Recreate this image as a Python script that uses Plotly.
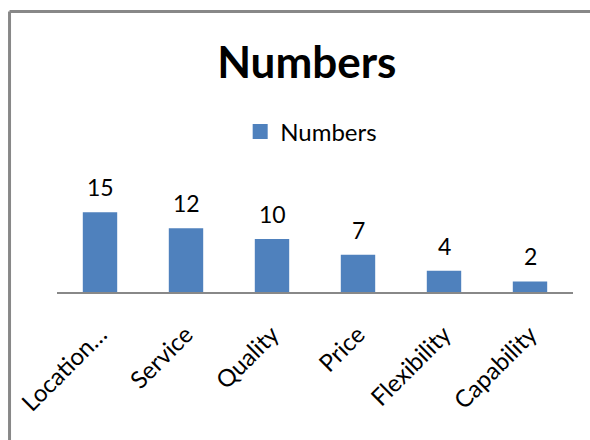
import plotly.graph_objects as go

# Survey counts per factor
categories = ["Location…", "Service", "Quality", "Price", "Flexibility", "Capability"]
values = [15, 12, 10, 7, 4, 2]
series_name = "Numbers"
chart_title = "Numbers"

BAR_COLOR = "#4F81BD"
FONT = "Lato, 'Open Sans', sans-serif"

fig = go.Figure()

fig.add_trace(go.Bar(
    x=categories,
    y=values,
    name=series_name,
    marker=dict(color=BAR_COLOR, line=dict(width=0)),
    showlegend=False,
    hoverinfo="x+y",
))

# Legend entry with a square swatch
fig.add_trace(go.Scatter(
    x=[None], y=[None],
    mode="markers",
    name=series_name,
    marker=dict(symbol="square", size=15, color=BAR_COLOR),
    showlegend=True,
))

# Value labels above each bar
for c, v in zip(categories, values):
    fig.add_annotation(
        x=c, y=v, text=str(v),
        showarrow=False, yanchor="middle", yshift=25,
        font=dict(family=FONT, size=23, color="black"),
    )

# Chart frame (left and top edges)
frame = dict(color="#888888", width=3)
fig.add_shape(type="line", xref="paper", yref="paper",
              x0=-0.092, x1=-0.092, y0=-2.0, y1=3.30, line=frame)
fig.add_shape(type="line", xref="paper", yref="paper",
              x0=-0.092, x1=1.05, y0=3.30, y1=3.30, line=frame)

fig.update_layout(
    width=590, height=440,
    margin=dict(l=57, r=17, t=207, b=148),
    paper_bgcolor="white",
    plot_bgcolor="white",
    bargap=0.6,
    font=dict(family=FONT, size=23, color="black"),
    title=dict(
        text="<b>" + chart_title + "</b>",
        x=0.52, xanchor="center",
        y=1 - 63 / 440, yref="container", yanchor="middle",
        font=dict(family=FONT, size=44, color="black"),
    ),
    legend=dict(
        orientation="h",
        x=0.355, xanchor="left",
        y=(292 - 132) / 85, yanchor="middle",
        bgcolor="rgba(0,0,0,0)",
        font=dict(family=FONT, size=24, color="black"),
    ),
    xaxis=dict(
        showline=True, linecolor="#888888", linewidth=2,
        showgrid=False, ticks="", tickangle=-45,
        tickfont=dict(family=FONT, size=24, color="black"),
        ticklabelstandoff=17,
    ),
    yaxis=dict(
        range=[0, 16], visible=False, showgrid=False, zeroline=False,
    ),
)

fig.write_html("out.html")
